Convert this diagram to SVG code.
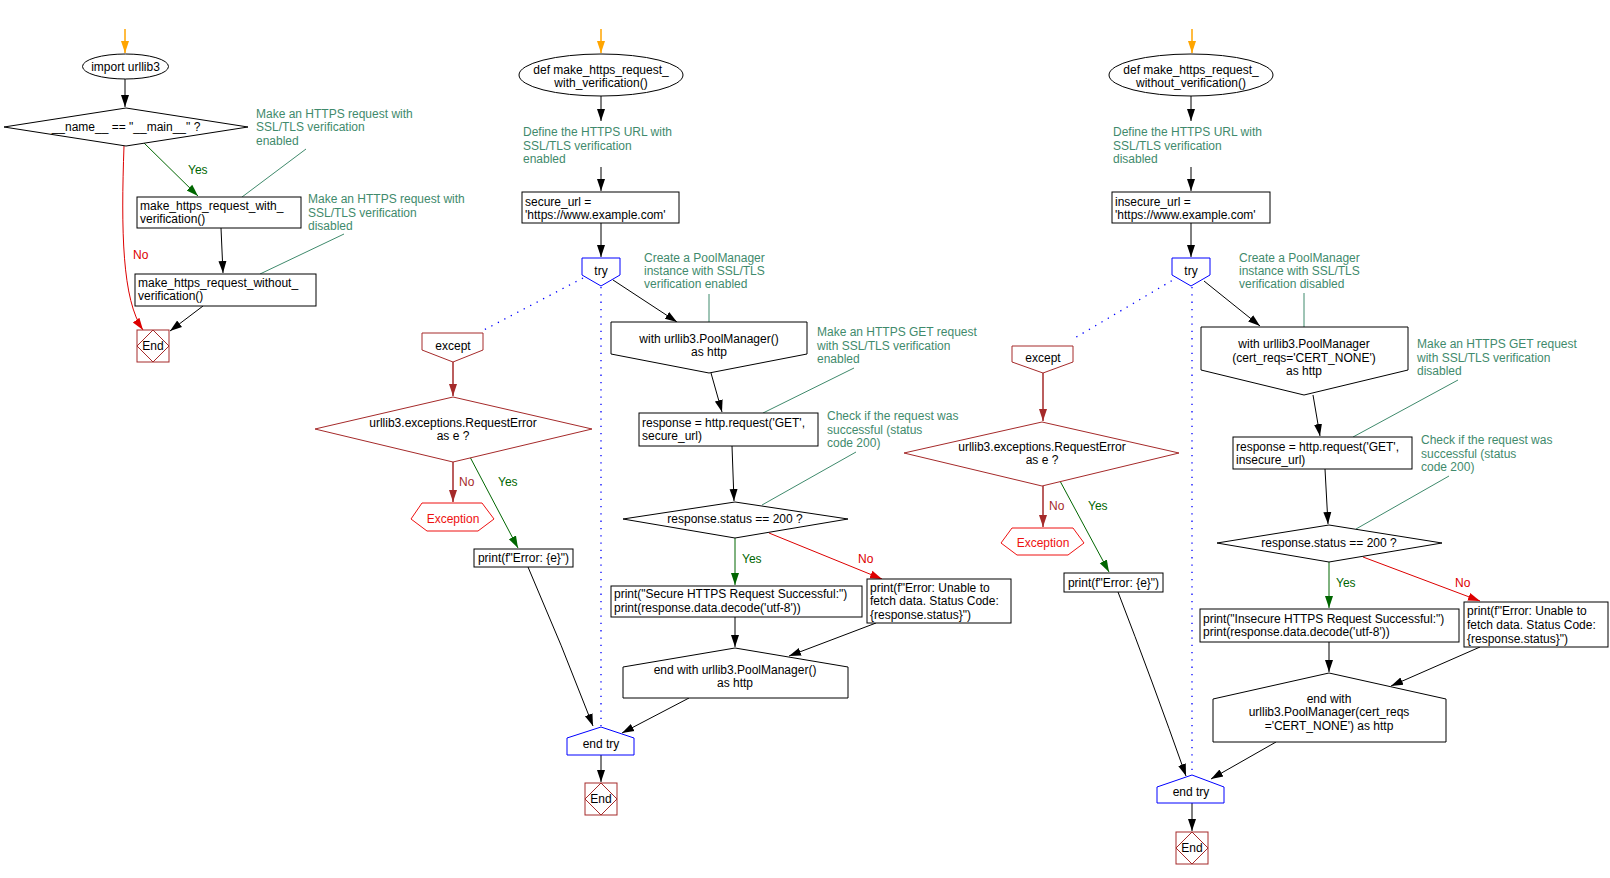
<svg xmlns="http://www.w3.org/2000/svg" width="1610" height="878" viewBox="0 0 1610 878">
<style>
text{font-family:"Liberation Sans",Arial,sans-serif;font-size:12px;fill:#000}
.c{text-anchor:middle}
.cm{fill:#3f8a6c}
.n{fill:#fff;stroke:#000;stroke-width:1}
.br{fill:#fff;stroke:#a52a2a;stroke-width:1}
.bl{fill:#fff;stroke:#0000ff;stroke-width:1}
.ex{fill:#fff;stroke:#ee1111;stroke-width:1}
.ext{fill:#ee1111}
.brt{fill:#a52a2a}
.gt{fill:#006600}
.rt{fill:#dd0000}
.k{fill:none;stroke:#000;stroke-width:1;marker-end:url(#ak)}
.g{fill:none;stroke:#006600;stroke-width:1;marker-end:url(#ag)}
.r{fill:none;stroke:#dd0000;stroke-width:1;marker-end:url(#ar)}
.b{fill:none;stroke:#a52a2a;stroke-width:1.5;marker-end:url(#ab)}
.o{fill:none;stroke:#ffa500;stroke-width:1.5;marker-end:url(#ao)}
.cl{fill:none;stroke:#3f8a6c;stroke-width:1}
.d{fill:none;stroke:#0000ff;stroke-width:1.3;stroke-dasharray:1.3,6}
</style>
<defs>
<marker id="ak" markerUnits="userSpaceOnUse" markerWidth="12" markerHeight="10" refX="12" refY="5" orient="auto"><path d="M0,1 L12,5 L0,9 z" fill="#000"/></marker>
<marker id="ag" markerUnits="userSpaceOnUse" markerWidth="12" markerHeight="10" refX="12" refY="5" orient="auto"><path d="M0,1 L12,5 L0,9 z" fill="#006600"/></marker>
<marker id="ar" markerUnits="userSpaceOnUse" markerWidth="12" markerHeight="10" refX="12" refY="5" orient="auto"><path d="M0,1 L12,5 L0,9 z" fill="#dd0000"/></marker>
<marker id="ab" markerUnits="userSpaceOnUse" markerWidth="12" markerHeight="10" refX="12" refY="5" orient="auto"><path d="M0,1 L12,5 L0,9 z" fill="#a52a2a"/></marker>
<marker id="ao" markerUnits="userSpaceOnUse" markerWidth="12" markerHeight="10" refX="12" refY="5" orient="auto"><path d="M0,1 L12,5 L0,9 z" fill="#ffa500"/></marker>
</defs>
<rect width="1610" height="878" fill="#fff"/>

<g id="connectors">
<!-- left column -->
<path class="o" d="M125,29 L125,53"/>
<path class="k" d="M125,79 L125,107"/>
<path class="g" d="M143,142 L198,196"/>
<text class="gt" x="188" y="174">Yes</text>
<path class="r" d="M124,146 C121,230 122,300 143,330"/>
<text class="rt" x="133" y="259">No</text>
<path class="k" d="M221,228 L223,273"/>
<path class="k" d="M203,306 L170,331"/>
<path class="cl" d="M306,149 L242,197"/>
<path class="cl" d="M344,234 L260,274"/>
<!-- middle column -->
<path class="o" d="M601,29 L601,53"/>
<path class="k" d="M601,96 L601,121"/>
<path class="k" d="M601,167 L601,191"/>
<path class="k" d="M601,223 L601,257"/>
<path class="k" d="M613,280 L677,322"/>
<path class="cl" d="M709,294 L709,322"/>
<path class="k" d="M711,373 L722,412"/>
<path class="cl" d="M854,368 L763,413"/>
<path class="cl" d="M856,452 L762,505"/>
<path class="k" d="M732,446 L734,501"/>
<path class="g" d="M735,538 L735,585"/>
<text class="gt" x="742" y="563">Yes</text>
<path class="r" d="M769,533 L882,579"/>
<text class="rt" x="858" y="563">No</text>
<path class="k" d="M735,617 L735,647"/>
<path class="k" d="M876,623 L789,656"/>
<path class="k" d="M689,698 L622,733"/>
<path class="k" d="M601,755 L601,782"/>
<path class="d" d="M601,287 L601,726"/>
<path class="d" d="M583,278 L480,332"/>
<path class="b" d="M453,362 L453,396"/>
<path class="b" d="M453,462 L453,502"/>
<text class="brt" x="459" y="486">No</text>
<path class="g" d="M470,457 L518,548"/>
<text class="gt" x="498" y="486">Yes</text>
<path class="k" d="M528,567 Q562,645 593,726"/>
<!-- right column -->
<path class="o" d="M1192,29 L1192,53"/>
<path class="k" d="M1191,96 L1191,121"/>
<path class="k" d="M1191,167 L1191,191"/>
<path class="k" d="M1191,223 L1191,257"/>
<path class="k" d="M1204,281 L1260,326"/>
<path class="cl" d="M1304,293 L1304,327"/>
<path class="k" d="M1313,395 L1320,436"/>
<path class="cl" d="M1458,380 L1353,437"/>
<path class="cl" d="M1449,476 L1356,529"/>
<path class="k" d="M1325,469 L1328,524"/>
<path class="g" d="M1329,562 L1329,608"/>
<text class="gt" x="1336" y="587">Yes</text>
<path class="r" d="M1363,557 L1480,601"/>
<text class="rt" x="1455" y="587">No</text>
<path class="k" d="M1329,642 L1329,672"/>
<path class="k" d="M1480,647 L1391,686"/>
<path class="k" d="M1276,742 L1211,779"/>
<path class="k" d="M1192,803 L1192,831"/>
<path class="d" d="M1192,287 L1192,774"/>
<path class="d" d="M1178,277 L1073,339"/>
<path class="b" d="M1043,373 L1043,421"/>
<path class="b" d="M1043,486 L1043,527"/>
<text class="brt" x="1049" y="510">No</text>
<path class="g" d="M1060,481 L1109,572"/>
<text class="gt" x="1088" y="510">Yes</text>
<path class="k" d="M1118,592 Q1152,680 1186,776"/>
</g>

<!-- LEFT COLUMN NODES -->
<g id="import">
<ellipse class="n" cx="125.5" cy="66.5" rx="43" ry="12.5"/>
<text class="c" x="125.5" y="71">import urllib3</text>
</g>
<g id="main_check">
<polygon class="n" points="4,127 126,108 248,127 126,146"/>
<text class="c" x="126" y="131">__name__ == "__main__" ?</text>
</g>
<g id="call_with">
<rect class="n" x="137" y="197" width="164" height="31"/>
<text x="140" y="210">make_https_request_with_</text>
<text x="140" y="223">verification()</text>
</g>
<g id="call_without">
<rect class="n" x="135" y="274" width="181" height="32"/>
<text x="138" y="287">make_https_request_without_</text>
<text x="138" y="300">verification()</text>
</g>
<g id="end_main">
<rect class="br" x="137" y="330" width="32" height="32"/>
<polygon class="br" points="153,330 169,346 153,362 137,346"/>
<text class="c" x="153" y="350">End</text>
</g>
<g id="comment_main1">
<text class="cm" x="256" y="118">Make an HTTPS request with</text>
<text class="cm" x="256" y="131">SSL/TLS verification</text>
<text class="cm" x="256" y="145">enabled</text>
</g>
<g id="comment_main2">
<text class="cm" x="308" y="203">Make an HTTPS request with</text>
<text class="cm" x="308" y="217">SSL/TLS verification</text>
<text class="cm" x="308" y="230">disabled</text>
</g>

<!-- MIDDLE COLUMN NODES -->
<g id="def_with">
<ellipse class="n" cx="601" cy="75" rx="82" ry="21"/>
<text class="c" x="601" y="74">def make_https_request_</text>
<text class="c" x="601" y="87">with_verification()</text>
</g>
<g id="comment_url1">
<text class="cm" x="523" y="136">Define the HTTPS URL with</text>
<text class="cm" x="523" y="150">SSL/TLS verification</text>
<text class="cm" x="523" y="163">enabled</text>
</g>
<g id="secure_url">
<rect class="n" x="522" y="192" width="157" height="31"/>
<text x="525" y="206">secure_url =</text>
<text x="525" y="219">'https://www.example.com'</text>
</g>
<g id="try1">
<polygon class="bl" points="582,258 620,258 620,275 601,286 582,275"/>
<text class="c" x="601" y="275">try</text>
</g>
<g id="with1">
<polygon class="n" points="611,322 807,322 807,354 709,373 611,354"/>
<text class="c" x="709" y="343">with urllib3.PoolManager()</text>
<text class="c" x="709" y="356">as http</text>
</g>
<g id="comment_pool1">
<text class="cm" x="644" y="262">Create a PoolManager</text>
<text class="cm" x="644" y="275">instance with SSL/TLS</text>
<text class="cm" x="644" y="288">verification enabled</text>
</g>
<g id="response1">
<rect class="n" x="639" y="413" width="179" height="33"/>
<text x="642" y="427">response = http.request('GET',</text>
<text x="642" y="440">secure_url)</text>
</g>
<g id="comment_get1">
<text class="cm" x="817" y="336">Make an HTTPS GET request</text>
<text class="cm" x="817" y="350">with SSL/TLS verification</text>
<text class="cm" x="817" y="363">enabled</text>
</g>
<g id="comment_check1">
<text class="cm" x="827" y="420">Check if the request was</text>
<text class="cm" x="827" y="434">successful (status</text>
<text class="cm" x="827" y="447">code 200)</text>
</g>
<g id="status1">
<polygon class="n" points="623,519 735,502 848,519 735,538"/>
<text class="c" x="735" y="523">response.status == 200 ?</text>
</g>
<g id="success1">
<rect class="n" x="611" y="586" width="251" height="31"/>
<text x="614" y="598">print("Secure HTTPS Request Successful:")</text>
<text x="614" y="612">print(response.data.decode('utf-8'))</text>
</g>
<g id="error1">
<rect class="n" x="867" y="579" width="144" height="44"/>
<text x="870" y="592">print(f"Error: Unable to</text>
<text x="870" y="605">fetch data. Status Code:</text>
<text x="870" y="619">{response.status}")</text>
</g>
<g id="endwith1">
<polygon class="n" points="735,648 848,667 848,698 623,698 623,667"/>
<text class="c" x="735" y="674">end with urllib3.PoolManager()</text>
<text class="c" x="735" y="687">as http</text>
</g>
<g id="endtry1">
<polygon class="bl" points="601,727 634,738 634,755 567,755 567,738"/>
<text class="c" x="601" y="748">end try</text>
</g>
<g id="end1">
<rect class="br" x="585" y="783" width="32" height="32"/>
<polygon class="br" points="601,783 617,799 601,815 585,799"/>
<text class="c" x="601" y="803">End</text>
</g>
<g id="except1">
<polygon class="br" points="422,333 483,333 483,350 453,362 422,350"/>
<text class="c" x="453" y="350">except</text>
</g>
<g id="reqerr1">
<polygon class="br" points="315,429 453,397 592,429 453,462"/>
<text class="c" x="453" y="427">urllib3.exceptions.RequestError</text>
<text class="c" x="453" y="440">as e ?</text>
</g>
<g id="exception1">
<polygon class="ex" points="422,503 482,503 494,519 478,531 427,531 411,519"/>
<text class="c ext" x="453" y="523">Exception</text>
</g>
<g id="printerr1">
<rect class="n" x="474" y="549" width="99" height="18"/>
<text class="c" x="523.5" y="562">print(f"Error: {e}")</text>
</g>

<!-- RIGHT COLUMN NODES -->
<g id="def_without">
<ellipse class="n" cx="1191" cy="75" rx="82" ry="21"/>
<text class="c" x="1191" y="74">def make_https_request_</text>
<text class="c" x="1191" y="87">without_verification()</text>
</g>
<g id="comment_url2">
<text class="cm" x="1113" y="136">Define the HTTPS URL with</text>
<text class="cm" x="1113" y="150">SSL/TLS verification</text>
<text class="cm" x="1113" y="163">disabled</text>
</g>
<g id="insecure_url">
<rect class="n" x="1112" y="192" width="158" height="31"/>
<text x="1115" y="206">insecure_url =</text>
<text x="1115" y="219">'https://www.example.com'</text>
</g>
<g id="try2">
<polygon class="bl" points="1172,258 1210,258 1210,275 1191,286 1172,275"/>
<text class="c" x="1191" y="275">try</text>
</g>
<g id="with2">
<polygon class="n" points="1201,327 1408,327 1408,370 1304,395 1201,370"/>
<text class="c" x="1304" y="348">with urllib3.PoolManager</text>
<text class="c" x="1304" y="362">(cert_reqs='CERT_NONE')</text>
<text class="c" x="1304" y="375">as http</text>
</g>
<g id="comment_pool2">
<text class="cm" x="1239" y="262">Create a PoolManager</text>
<text class="cm" x="1239" y="275">instance with SSL/TLS</text>
<text class="cm" x="1239" y="288">verification disabled</text>
</g>
<g id="response2">
<rect class="n" x="1233" y="437" width="179" height="32"/>
<text x="1236" y="451">response = http.request('GET',</text>
<text x="1236" y="464">insecure_url)</text>
</g>
<g id="comment_get2">
<text class="cm" x="1417" y="348">Make an HTTPS GET request</text>
<text class="cm" x="1417" y="362">with SSL/TLS verification</text>
<text class="cm" x="1417" y="375">disabled</text>
</g>
<g id="comment_check2">
<text class="cm" x="1421" y="444">Check if the request was</text>
<text class="cm" x="1421" y="458">successful (status</text>
<text class="cm" x="1421" y="471">code 200)</text>
</g>
<g id="status2">
<polygon class="n" points="1217,543 1329,525 1442,543 1329,562"/>
<text class="c" x="1329" y="547">response.status == 200 ?</text>
</g>
<g id="success2">
<rect class="n" x="1200" y="609" width="259" height="33"/>
<text x="1203" y="623">print("Insecure HTTPS Request Successful:")</text>
<text x="1203" y="636">print(response.data.decode('utf-8'))</text>
</g>
<g id="error2">
<rect class="n" x="1464" y="602" width="144" height="45"/>
<text x="1467" y="615">print(f"Error: Unable to</text>
<text x="1467" y="629">fetch data. Status Code:</text>
<text x="1467" y="643">{response.status}")</text>
</g>
<g id="endwith2">
<polygon class="n" points="1329,673 1446,699 1446,742 1213,742 1213,699"/>
<text class="c" x="1329" y="703">end with</text>
<text class="c" x="1329" y="716">urllib3.PoolManager(cert_reqs</text>
<text class="c" x="1329" y="730">='CERT_NONE') as http</text>
</g>
<g id="endtry2">
<polygon class="bl" points="1192,775 1224,787 1224,803 1157,803 1157,787"/>
<text class="c" x="1191" y="796">end try</text>
</g>
<g id="end2">
<rect class="br" x="1176" y="832" width="32" height="32"/>
<polygon class="br" points="1192,832 1208,848 1192,864 1176,848"/>
<text class="c" x="1192" y="852">End</text>
</g>
<g id="except2">
<polygon class="br" points="1012,346 1073,346 1073,362 1043,373 1012,362"/>
<text class="c" x="1043" y="362">except</text>
</g>
<g id="reqerr2">
<polygon class="br" points="904,453 1042,422 1179,453 1042,486"/>
<text class="c" x="1042" y="451">urllib3.exceptions.RequestError</text>
<text class="c" x="1042" y="464">as e ?</text>
</g>
<g id="exception2">
<polygon class="ex" points="1012,528 1073,528 1084,543 1068,555 1017,555 1001,543"/>
<text class="c ext" x="1043" y="547">Exception</text>
</g>
<g id="printerr2">
<rect class="n" x="1064" y="573" width="99" height="19"/>
<text class="c" x="1113.5" y="587">print(f"Error: {e}")</text>
</g>
</svg>
